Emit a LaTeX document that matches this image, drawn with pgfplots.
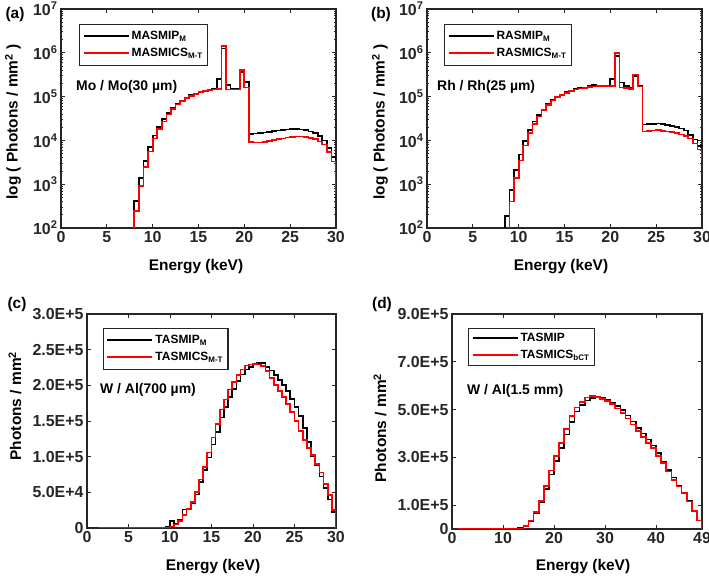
\documentclass[border=0pt]{standalone}
\usepackage{fontspec}
\setmainfont{Liberation Sans}
\usepackage{pgfplots}
\pgfplotsset{compat=1.18}
\definecolor{axgray}{HTML}{262626}
\definecolor{mred}{HTML}{FF0000}
\pgfplotsset{
  base/.style={
    scale only axis,
    axis line style={axgray, line width=1.25bp},
    every tick/.style={axgray, line width=0.8bp},
    major tick length=4bp, minor tick length=2.2bp,
    tick align=inside,
    /pgf/number format/assume math mode=true,
    ticklabel style={font=\fontsize{16}{16}\selectfont\bfseries, text=axgray},
    legend style={draw=axgray, fill=white, line width=1.1bp, font=\fontsize{12}{13}\selectfont\bfseries,
      anchor=north west, inner xsep=3bp, inner ysep=5bp, row sep=3bp},
    legend cell align=left,
    every axis plot/.append style={const plot mark left, no markers, line width=1.7bp},
  },
  blk/.style={black, legend image code/.code={\draw[black, line width=2bp] (0bp,0bp) -- (45bp,0bp);}},
  rd/.style={mred, legend image code/.code={\draw[mred, line width=2bp] (0bp,0bp) -- (45bp,0bp);}},
  logax/.style={
    ymin=1e2, ymax=1e7, xmin=0, xmax=30,
    xtick={0,5,...,30},
    ytick={1e2,1e3,1e4,1e5,1e6,1e7},
    yticklabels={10\textsuperscript{2},10\textsuperscript{3},10\textsuperscript{4},10\textsuperscript{5},10\textsuperscript{6},10\textsuperscript{7}},
    minor ytick={200,300,400,500,600,700,800,900,2000,3000,4000,5000,6000,7000,8000,9000,20000,30000,40000,50000,60000,70000,80000,90000,200000,300000,400000,500000,600000,700000,800000,900000,2000000,3000000,4000000,5000000,6000000,7000000,8000000,9000000},
  },
}
\newcommand{\lab}[1]{{\fontsize{15.5}{15.5}\selectfont\bfseries #1}}
\begin{document}
\begin{tikzpicture}
\useasboundingbox (0,0) rectangle (709bp,578bp);
% ---------------- (a)
\begin{axis}[ymode=log, base, logax, at={(61bp,350bp)}, anchor=south west, width=275bp, height=219bp,
  legend style={at={(0.0655,0.9315)}}]
\addplot[blk] coordinates {(7.5,10) (8.0,420) (8.5,1400) (9.0,3400) (9.5,7000) (10.0,13000) (10.5,20000) (11.0,31000) (11.5,42000) (12.0,55000) (12.5,68000) (13.0,82000) (13.5,95000) (14.0,107000) (14.5,117000) (15.0,126000) (15.5,134000) (16.0,141000) (16.5,147000) (17.0,250000) (17.5,1250000) (18.0,182000) (18.5,152000) (19.0,150000) (19.5,370000) (20.0,215000) (20.5,14000) (21.0,14300) (21.5,14700) (22.0,15200) (22.5,15800) (23.0,16300) (23.5,16800) (24.0,17200) (24.5,17600) (25.0,17900) (25.5,18000) (26.0,17700) (26.5,17000) (27.0,16000) (27.5,14800) (28.0,12500) (28.5,10000) (29.0,6700) (29.5,4200) (30.0,3500)};
\addlegendentry{MASMIP\textsubscript{M}}
\addplot[rd] coordinates {(7.5,10) (8.0,240) (8.5,900) (9.0,2500) (9.5,5600) (10.0,11000) (10.5,18000) (11.0,27000) (11.5,39000) (12.0,52000) (12.5,66000) (13.0,80000) (13.5,93000) (14.0,105000) (14.5,116000) (15.0,125000) (15.5,133000) (16.0,140000) (16.5,146000) (17.0,150000) (17.5,1420000) (18.0,146000) (18.5,145000) (19.0,145000) (19.5,410000) (20.0,162000) (20.5,9300) (21.0,9000) (21.5,8900) (22.0,9200) (22.5,9600) (23.0,10100) (23.5,10600) (24.0,11100) (24.5,11600) (25.0,12000) (25.5,12300) (26.0,12200) (26.5,11800) (27.0,11300) (27.5,10800) (28.0,9500) (28.5,8000) (29.0,5500) (29.5,3300) (30.0,600)};
\addlegendentry{MASMICS\textsubscript{M-T}}
\end{axis}
% ---------------- (b)
\begin{axis}[ymode=log, base, logax, at={(427bp,350bp)}, anchor=south west, width=275bp, height=219bp,
  legend style={at={(0.062,0.9315)}}]
\addplot[blk] coordinates {(8.0,10) (8.5,190) (9.0,750) (9.5,2100) (10.0,4800) (10.5,9800) (11.0,17000) (11.5,27000) (12.0,38000) (12.5,51000) (13.0,67000) (13.5,83000) (14.0,99000) (14.5,112000) (15.0,125000) (15.5,137000) (16.0,148000) (16.5,156000) (17.0,162000) (17.5,172000) (18.0,185000) (18.5,176000) (19.0,175000) (19.5,176000) (20.0,250000) (20.5,850000) (21.0,210000) (21.5,172000) (22.0,158000) (22.5,300000) (23.0,172000) (23.5,23000) (24.0,23500) (24.5,24000) (25.0,24200) (25.5,23800) (26.0,22800) (26.5,21600) (27.0,20200) (27.5,18800) (28.0,16800) (28.5,13500) (29.0,10500) (29.5,7400) (30.0,3600)};
\addlegendentry{RASMIP\textsubscript{M}}
\addplot[rd] coordinates {(8.5,10) (9.0,400) (9.5,1400) (10.0,3500) (10.5,7600) (11.0,14500) (11.5,23500) (12.0,35000) (12.5,49000) (13.0,65000) (13.5,81000) (14.0,97000) (14.5,110000) (15.0,123000) (15.5,135000) (16.0,146000) (16.5,154000) (17.0,160000) (17.5,165000) (18.0,170000) (18.5,172000) (19.0,174000) (19.5,175000) (20.0,175000) (20.5,1000000) (21.0,162000) (21.5,160000) (22.0,148000) (22.5,320000) (23.0,170000) (23.5,16000) (24.0,16300) (24.5,16800) (25.0,17000) (25.5,16600) (26.0,16000) (26.5,15400) (27.0,14600) (27.5,13700) (28.0,12600) (28.5,11000) (29.0,8500) (29.5,6200) (30.0,3600)};
\addlegendentry{RASMICS\textsubscript{M-T}}
\end{axis}
% ---------------- (c)
\begin{axis}[base, at={(87bp,50bp)}, anchor=south west, width=249bp, height=214bp,
  xmin=0, xmax=30, ymin=0, ymax=300000, xtick={0,5,...,30},
  scaled y ticks=false,
  ytick={0,50000,100000,150000,200000,250000,300000},
  yticklabels={0,5.0E+4,1.0E+5,1.5E+5,2.0E+5,2.5E+5,3.0E+5},
  legend style={at={(0.064,0.9346)}}]
\addplot[blk] coordinates {(1.5,0) (9.5,1500) (10.0,10000) (10.5,6000) (11.0,12000) (11.5,26000) (12.0,27000) (12.5,35000) (13.0,47000) (13.5,64000) (14.0,81000) (14.5,99000) (15.0,117000) (15.5,135000) (16.0,155000) (16.5,170000) (17.0,184000) (17.5,195000) (18.0,206000) (18.5,215000) (19.0,222000) (19.5,226000) (20.0,230000) (20.5,231000) (21.0,231000) (21.5,226000) (22.0,221000) (22.5,214000) (23.0,207000) (23.5,200000) (24.0,192000) (24.5,181000) (25.0,170000) (25.5,157000) (26.0,140000) (26.5,121000) (27.0,101000) (27.5,88000) (28.0,72000) (28.5,56000) (29.0,40000) (29.5,22000) (30.0,0)};
\addlegendentry{TASMIP\textsubscript{M}}
\addplot[rd] coordinates {(1.5,0) (10.0,2000) (10.5,5000) (11.0,10000) (11.5,18000) (12.0,27000) (12.5,36000) (13.0,50000) (13.5,68000) (14.0,86000) (14.5,106000) (15.0,127000) (15.5,146000) (16.0,166000) (16.5,180000) (17.0,194000) (17.5,205000) (18.0,214000) (18.5,222000) (19.0,228000) (19.5,229000) (20.0,230000) (20.5,229000) (21.0,227000) (21.5,220000) (22.0,210000) (22.5,200000) (23.0,192000) (23.5,184000) (24.0,174000) (24.5,163000) (25.0,150000) (25.5,136000) (26.0,123000) (26.5,112000) (27.0,102000) (27.5,90000) (28.0,78000) (28.5,62000) (29.0,46000) (29.5,25000) (30.0,0)};
\addlegendentry{TASMICS\textsubscript{M-T}}
\end{axis}
% ---------------- (d)
\begin{axis}[base, at={(452bp,49bp)}, anchor=south west, width=250bp, height=215bp,
  xmin=0, xmax=49, ymin=0, ymax=900000, xtick={0,10,20,30,40,49},
  scaled y ticks=false,
  ytick={0,100000,300000,500000,700000,900000},
  yticklabels={0,1.0E+5,3.0E+5,5.0E+5,7.0E+5,9.0E+5},
  legend style={at={(0.064,0.935)}, inner ysep=3bp}]
\addplot[blk] coordinates {(1,0) (13,3000) (14,14000) (15,33000) (16,68000) (17,112000) (18,168000) (19,228000) (20,285000) (21,340000) (22,396000) (23,448000) (24,492000) (25,520000) (26,538000) (27,548000) (28,552000) (29,549000) (30,541000) (31,530000) (32,515000) (33,497000) (34,475000) (35,450000) (36,422000) (37,400000) (38,375000) (39,349000) (40,318000) (41,283000) (42,248000) (43,215000) (44,180000) (45,150000) (46,117000) (47,77000) (48,36000) (49,0)};
\addlegendentry{TASMIP}
\addplot[rd] coordinates {(1,0) (13,2000) (14,12000) (15,35000) (16,70000) (17,118000) (18,180000) (19,245000) (20,305000) (21,360000) (22,420000) (23,472000) (24,508000) (25,533000) (26,550000) (27,557000) (28,554000) (29,545000) (30,535000) (31,522000) (32,505000) (33,485000) (34,462000) (35,437000) (36,410000) (37,385000) (38,360000) (39,339000) (40,307000) (41,276000) (42,241000) (43,206000) (44,178000) (45,150000) (46,115000) (47,76000) (48,36000) (49,0)};
\addlegendentry{TASMICS\textsubscript{bCT}}
\end{axis}
% ---------------- texts
\node[rotate=90] at (13bp,456bp) {\lab{log ( Photons / mm\textsuperscript{2} )}};
\node[rotate=90] at (380bp,456bp) {\lab{log ( Photons / mm\textsuperscript{2} )}};
\node[rotate=90] at (15bp,172bp) {\lab{Photons / mm\textsuperscript{2}}};
\node[rotate=90] at (380bp,150bp) {\lab{Photons / mm\textsuperscript{2}}};
\node at (196bp,311bp) {\lab{Energy (keV)}};
\node at (561bp,311bp) {\lab{Energy (keV)}};
\node at (213bp,11bp) {\lab{Energy (keV)}};
\node at (583bp,11bp) {\lab{Energy (keV)}};
\node at (15bp,563bp) {\lab{(a)}};
\node at (381bp,563bp) {\lab{(b)}};
\node at (17bp,273bp) {\lab{(c)}};
\node at (382bp,273bp) {\lab{(d)}};
\node[anchor=west, inner sep=0pt] at (76bp,491bp) {\fontsize{14}{14}\selectfont\bfseries Mo / Mo(30 µm)};
\node[anchor=west, inner sep=0pt] at (437bp,491bp) {\fontsize{14}{14}\selectfont\bfseries Rh / Rh(25 µm)};
\node[anchor=west, inner sep=0pt] at (100bp,188bp) {\fontsize{14}{14}\selectfont\bfseries W / Al(700 µm)};
\node[anchor=west, inner sep=0pt] at (467bp,187bp) {\fontsize{14}{14}\selectfont\bfseries W / Al(1.5 mm)};
\end{tikzpicture}
\end{document}
